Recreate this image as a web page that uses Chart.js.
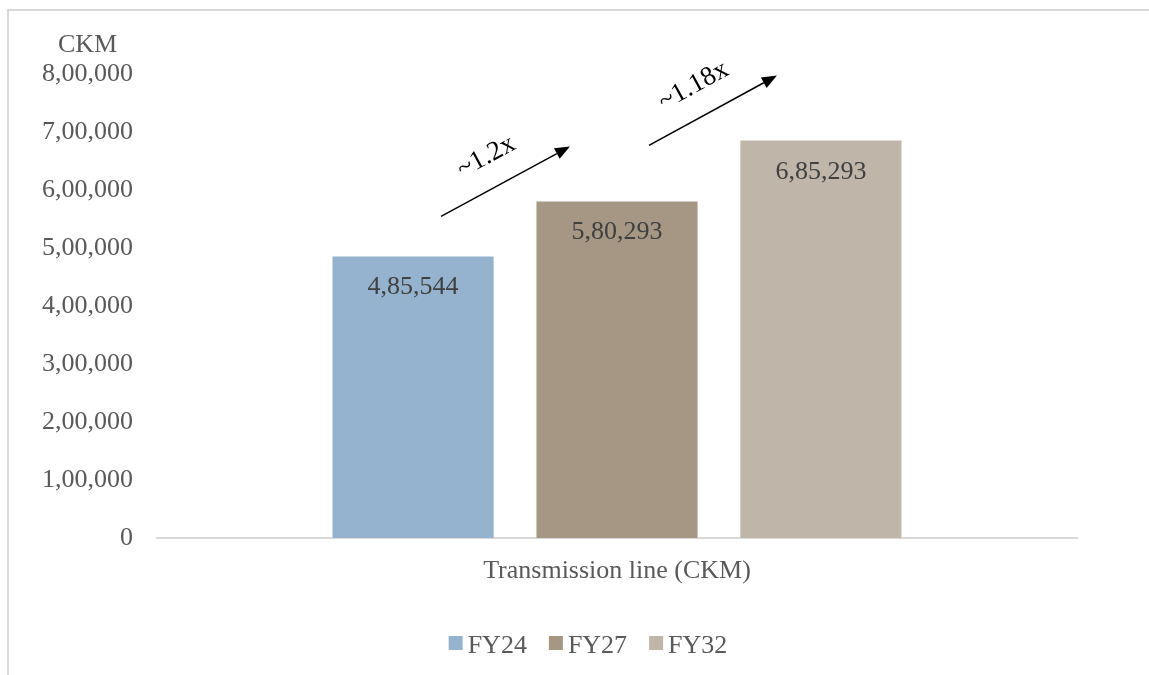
<!DOCTYPE html>
<html>
<head>
<meta charset="utf-8">
<script src="https://cdn.jsdelivr.net/npm/chart.js@4.4.1/dist/chart.umd.min.js"></script>
<style>
  body { margin: 0; background: #fff; overflow: hidden; }
  #frame { position: absolute; left: 7px; top: 9px; width: 1300px; height: 800px; border: 2px solid #d9d9d9; }
  #wrap { position: absolute; left: 0; top: 0; width: 1149px; height: 675px; }
</style>
</head>
<body>
<div id="frame"></div>
<div id="wrap"><canvas id="chart"></canvas></div>
<script>
// data
const categories = ['Transmission line (CKM)'];
const seriesNames = ['FY24', 'FY27', 'FY32'];
const seriesValues = [485544, 580293, 685293];
const seriesColors = ['#95b3cf', '#a69784', '#bfb5a8'];
const yTicks = [0, 100000, 200000, 300000, 400000, 500000, 600000, 700000, 800000];
const unitLabel = 'CKM';
// growth arrows between bars (from index -> to index)
const growthFrom = [0, 1];
const growthTo = [1, 2];
const growthText = ['~1.2x', '~1.18x'];
// arrow ends relative to bar centre / top: [startDx, startDy, endDx, endDy]
const arrowOffsets = [[28, -40, -47, -55], [32, -56, -44, -65]];

const FONT = '"Liberation Serif", "Times New Roman", serif';

// Indian number grouping, 485544 -> 4,85,544
function indian(n) {
    const s = String(Math.round(n));
    if (s.length <= 3) return s;
    const last3 = s.slice(-3);
    const rest = s.slice(0, -3).replace(/\B(?=(\d{2})+(?!\d))/g, ',');
    return rest + ',' + last3;
}

const extras = {
    id: 'extras',
    afterDatasetsDraw(chart) {
        const ctx = chart.ctx;
        const area = chart.chartArea;
        const yScale = chart.scales.y;
        ctx.save();

        // unit label above the tick labels
        ctx.font = '26px ' + FONT;
        ctx.fillStyle = '#595959';
        ctx.textAlign = 'center';
        ctx.textBaseline = 'alphabetic';
        const w = ctx.measureText(indian(yTicks[yTicks.length - 1])).width;
        ctx.fillText(unitLabel, yScale.right - 24 - w / 2, area.top - 22);

        // value labels inside bars
        const bars = chart.data.datasets.map((ds, i) => chart.getDatasetMeta(i).data[0]);
        ctx.fillStyle = '#404040';
        bars.forEach((bar, i) => {
            ctx.fillText(indian(chart.data.datasets[i].data[0]), bar.x, bar.y + 38);
        });

        // growth arrows
        ctx.font = '27px ' + FONT;
        growthText.forEach((text, k) => {
            const a = bars[growthFrom[k]], b = bars[growthTo[k]];
            const o = arrowOffsets[k];
            const x1 = a.x + o[0], y1 = a.y + o[1];
            const x2 = b.x + o[2], y2 = b.y + o[3];
            const ang = Math.atan2(y2 - y1, x2 - x1);
            const head = 15, half = 6;
            ctx.strokeStyle = '#000';
            ctx.fillStyle = '#000';
            ctx.lineWidth = 1.5;
            ctx.beginPath();
            ctx.moveTo(x1, y1);
            ctx.lineTo(x2 - head * Math.cos(ang), y2 - head * Math.sin(ang));
            ctx.stroke();
            ctx.beginPath();
            ctx.moveTo(x2, y2);
            ctx.lineTo(x2 - head * Math.cos(ang) + half * Math.sin(ang), y2 - head * Math.sin(ang) - half * Math.cos(ang));
            ctx.lineTo(x2 - head * Math.cos(ang) - half * Math.sin(ang), y2 - head * Math.sin(ang) + half * Math.cos(ang));
            ctx.closePath();
            ctx.fill();

            const mx = (x1 + x2) / 2, my = (y1 + y2) / 2;
            const off = 28;
            const tx = mx + off * Math.sin(ang) - 6, ty = my - off * Math.cos(ang);
            ctx.save();
            ctx.translate(tx, ty);
            ctx.rotate(ang);
            ctx.textAlign = 'center';
            ctx.textBaseline = 'middle';
            ctx.fillText(text, 0, 0);
            ctx.restore();
        });

        // legend
        ctx.font = '26px ' + FONT;
        ctx.textAlign = 'left';
        ctx.textBaseline = 'alphabetic';
        const box = 14, gapText = 5, gapItem = 22;
        const widths = seriesNames.map(n => ctx.measureText(n).width);
        const total = widths.reduce((s, t) => s + box + gapText + t, 0) + gapItem * (seriesNames.length - 1);
        let x = 588 - total / 2;
        const base = 653;
        chart.data.datasets.forEach((ds, i) => {
            ctx.fillStyle = ds.backgroundColor;
            ctx.fillRect(x, base - 17, box, box);
            ctx.fillStyle = '#595959';
            ctx.fillText(ds.label, x + box + gapText, base);
            x += box + gapText + widths[i] + gapItem;
        });
        ctx.restore();
    }
};

new Chart(document.getElementById('chart'), {
    type: 'bar',
    data: {
        labels: categories,
        datasets: seriesNames.map((name, i) => ({
            label: name,
            data: [seriesValues[i]],
            backgroundColor: seriesColors[i],
            categoryPercentage: 0.665,
            barPercentage: 0.79
        }))
    },
    options: {
        responsive: true,
        maintainAspectRatio: false,
        animation: false,
        layout: { padding: { left: 0, right: 72, top: 74, bottom: 87 } },
        plugins: {
            legend: { display: false },
            tooltip: { enabled: false }
        },
        scales: {
            x: {
                grid: { display: false, drawTicks: false },
                border: { display: true, color: '#d9d9d9', width: 2 },
                ticks: { color: '#595959', font: { family: FONT, size: 26 }, padding: 18 },
                afterFit(scale) { scale.height = 50; }
            },
            y: {
                min: 0,
                max: yTicks[yTicks.length - 1],
                grid: { display: false, drawTicks: false },
                border: { display: false },
                afterBuildTicks(scale) { scale.ticks = yTicks.map(v => ({ value: v })); },
                ticks: {
                    color: '#595959',
                    font: { family: FONT, size: 26 },
                    padding: 24,
                    callback: v => indian(v)
                },
                afterFit(scale) { scale.width = 157; }
            }
        }
    },
    plugins: [extras]
});
</script>
</body>
</html>
